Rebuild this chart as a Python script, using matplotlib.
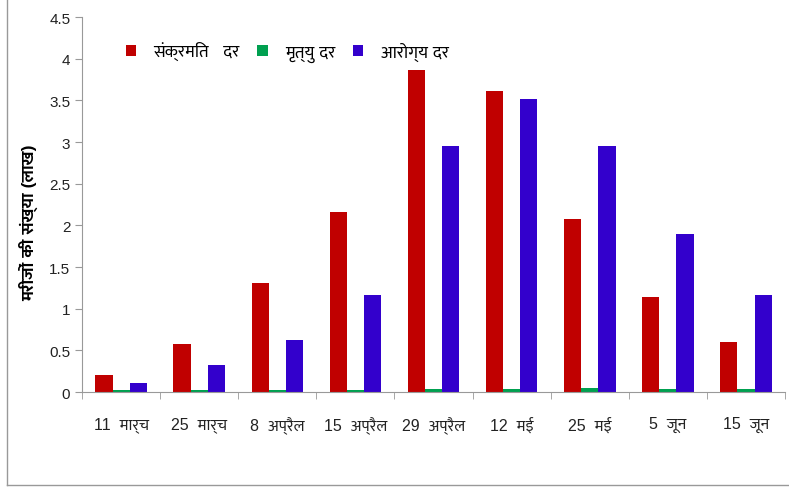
import os
import numpy as np
import matplotlib
matplotlib.use("Agg")
import matplotlib.pyplot as plt
from matplotlib import font_manager
from matplotlib.lines import Line2D

# data
dates = ["11  मार्च", "25  मार्च", "8  अप्रैल", "15  अप्रैल", "29  अप्रैल",
         "12  मई", "25  मई", "5  जून", "15  जून"]
infected = [0.21, 0.58, 1.31, 2.16, 3.86, 3.61, 2.08, 1.14, 0.60]
deaths = [0.02, 0.02, 0.02, 0.02, 0.04, 0.04, 0.05, 0.04, 0.04]
recovered = [0.11, 0.32, 0.62, 1.17, 2.95, 3.52, 2.95, 1.90, 1.17]
series_names = ["संक्रमित   दर", "मृत्यु दर", "आरोग्य दर"]
y_label = "मरीजों की संख्या (लाख)"
y_ticks = [0, 0.5, 1, 1.5, 2, 2.5, 3, 3.5, 4, 4.5]

# register a Devanagari font (Noto Sans Devanagari if present, else Mukta)
deva = None
paths = font_manager.findSystemFonts()
for key in ["NotoSansDevanagari-", "Mukta-", "Hind-"]:
    hits = [p for p in paths if os.path.basename(p).startswith(key)]
    if hits:
        for p in hits:
            font_manager.fontManager.addfont(p)
        deva = font_manager.FontProperties(fname=hits[0]).get_name()
        break
plt.rcParams["font.family"] = ["Liberation Sans"] + ([deva] if deva else []) + ["DejaVu Sans"]

fig = plt.figure(figsize=(7.89, 4.89), dpi=100)
ax = fig.add_axes([0.104, 0.196, 0.891, 0.767])

x = np.arange(len(dates))
w = 0.22
ax.bar(x - w, infected, w, color="#C00000", label=series_names[0])
ax.bar(x, deaths, w, color="#00A050", label=series_names[1])
ax.bar(x + w, recovered, w, color="#3300CC", label=series_names[2])

ax.set_xlim(-0.5, len(dates) - 0.5)
ax.set_ylim(0, 4.5)
ax.set_yticks(y_ticks)
ax.set_yticklabels([f"{t:g}" for t in y_ticks])
ax.set_xticks(x)
ax.set_xticklabels(dates)
ax.set_xticks(np.arange(len(dates) + 1) - 0.5, minor=True)
ax.tick_params(axis="x", which="major", length=0, pad=17, labelsize=11.5, colors="#222222")
ax.tick_params(axis="x", which="minor", length=5, color="#999999")
ax.tick_params(axis="y", length=5, color="#999999", labelsize=11, colors="#222222")

for s in ["top", "right"]:
    ax.spines[s].set_visible(False)
for s in ["left", "bottom"]:
    ax.spines[s].set_color("#999999")

ax.set_ylabel(y_label, fontsize=12.5, fontweight="bold")
ax.yaxis.set_label_coords(-0.063, 0.455)

ax.legend(loc="upper left", bbox_to_anchor=(0.04, 0.975), ncol=3, frameon=False,
          handlelength=0.6, handleheight=0.6, handletextpad=1.0, columnspacing=1.0,
          fontsize=12.5)

# figure border (left and bottom visible in reference)
fig.add_artist(Line2D([0.009, 0.009], [0.006, 1.0], transform=fig.transFigure,
                      color="#999999", lw=1))
fig.add_artist(Line2D([0.009, 1.0], [0.006, 0.006], transform=fig.transFigure,
                      color="#999999", lw=1))

fig.savefig("out.png", dpi=100)
